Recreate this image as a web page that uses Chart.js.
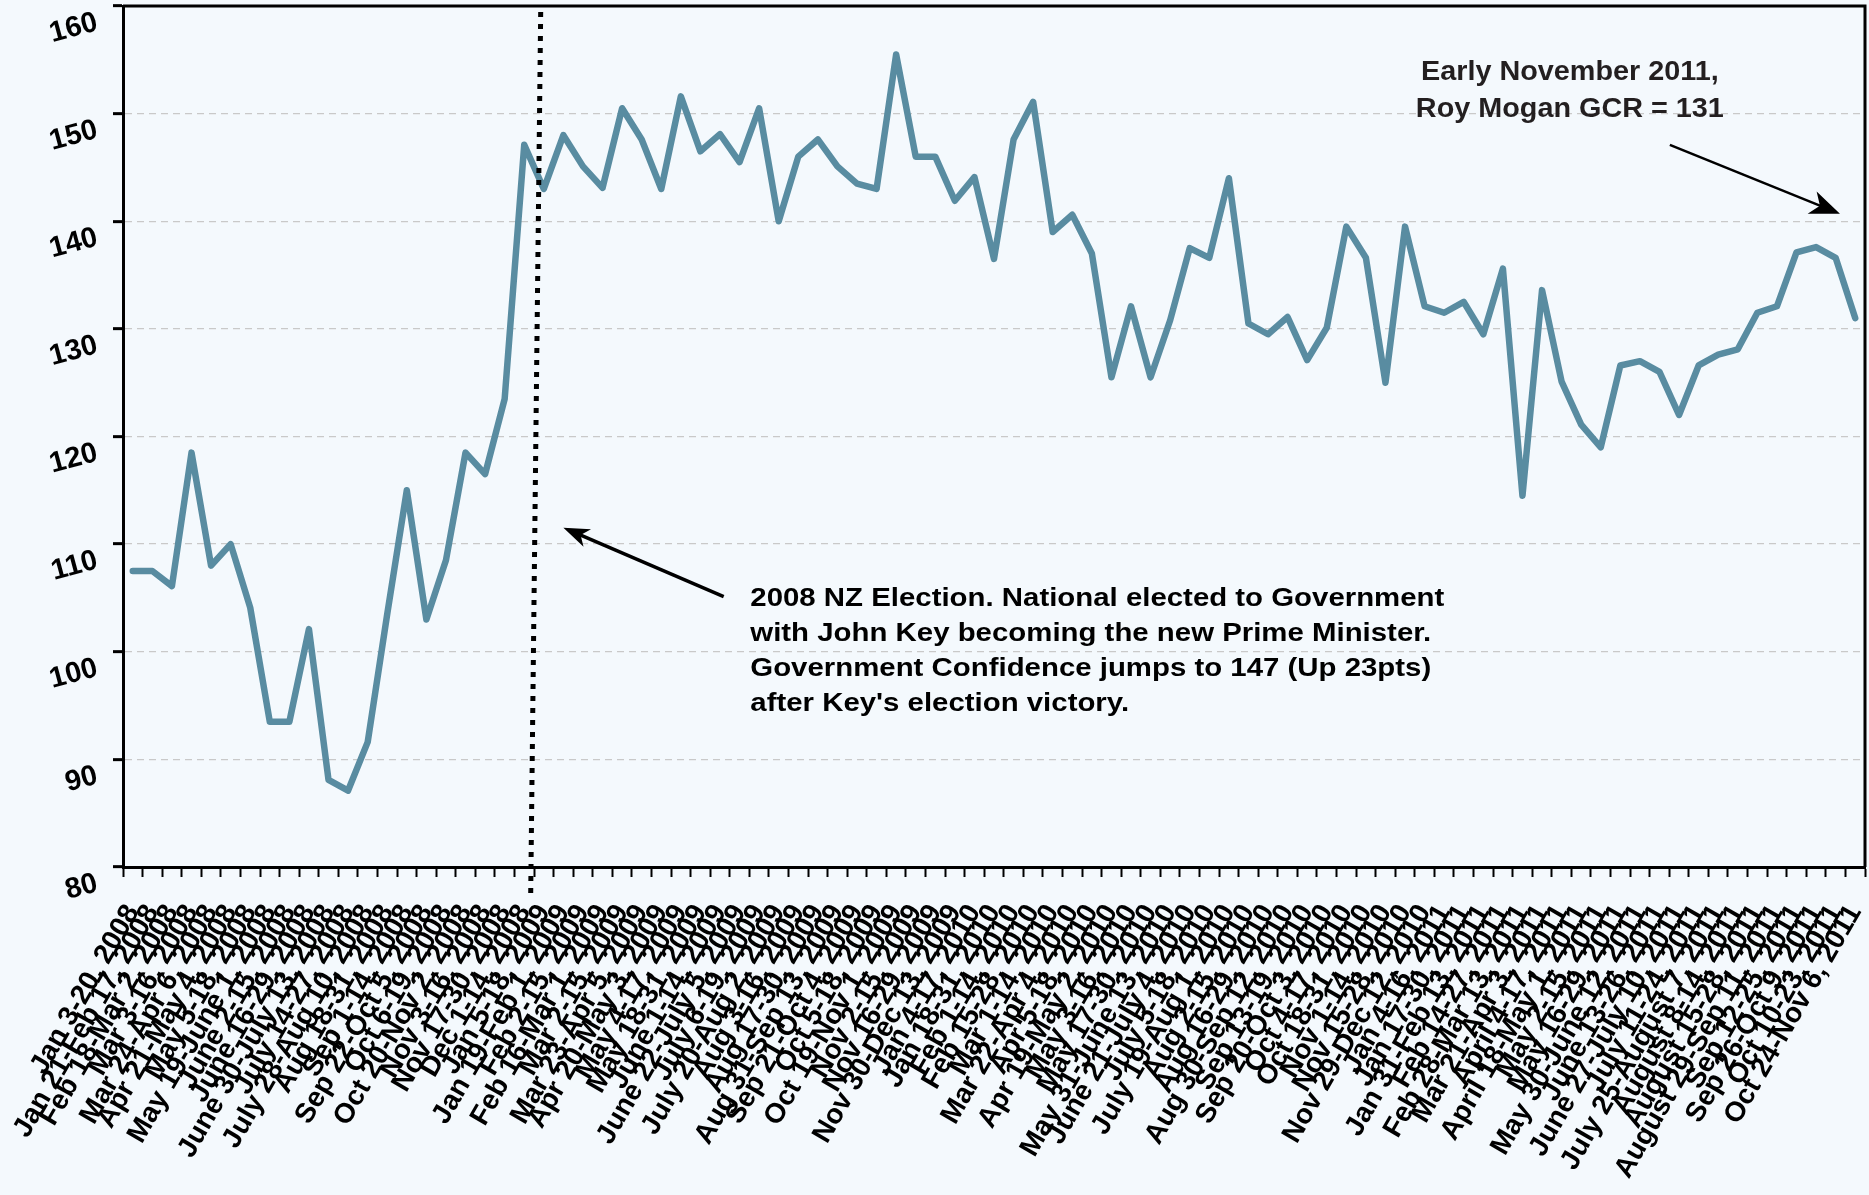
<!DOCTYPE html>
<html>
<head>
<meta charset="utf-8">
<title>NZ Government Confidence Rating 2008-2011</title>
<script src="https://cdn.jsdelivr.net/npm/chart.js@4.4.1/dist/chart.umd.min.js"></script>
<style>
  html, body { margin: 0; padding: 0; background: #f4f9fd; }
  #wrap { width: 1869px; height: 1195px; }
</style>
</head>
<body>
<div id="wrap"><canvas id="gcr" width="1869" height="1195"></canvas></div>
<script>
// survey periods, one list per year
const periods2008 = [
  'Jan 3-20', 'Jan 21-Feb 17', 'Feb 18-Mar 2', 'Mar 3-16', 'Mar 24-Apr 6', 'Apr 21-May 4',
  'May 5-18', 'May 19-June 1', 'June 2-15', 'June 16-29', 'June 30-July 13', 'July 14-27',
  'July 28-Aug 10', 'Aug 18-31', 'Sep 1-14', 'Sep 22-Oct 5', 'Oct 6-19', 'Oct 20-Nov 2',
  'Nov 3-16', 'Nov 17-30', 'Dec 1-14'
];
const periods2009 = [
  'Jan 5-18', 'Jan 19-Feb 1', 'Feb 2-15', 'Feb 16-Mar 1', 'Mar 2-15', 'Mar 23-Apr 5',
  'Apr 20-May 3', 'May 4-17', 'May 18-31', 'June 1-14', 'June 22-July 5', 'July 6-19',
  'July 20-Aug 2', 'Aug 3-16', 'Aug 17-30', 'Aug 31-Sep 13', 'Sep 21-Oct 4', 'Oct 5-18',
  'Oct 19-Nov 1', 'Nov 2-15', 'Nov 16-29', 'Nov 30-Dec 13'
];
const periods2010 = [
  'Jan 4-17', 'Jan 18-31', 'Feb 1-14', 'Feb 15-28', 'Mar 1-14', 'Mar 22-Apr 4',
  'Apr 5-18', 'Apr 19-May 2', 'May 3-16', 'May 17-30', 'May 31-June 13', 'June 21-July 4',
  'July 5-18', 'July 19-Aug 1', 'Aug 2-15', 'Aug 16-29', 'Aug 30-Sep 12', 'Sep 13-19',
  'Sep 20-Oct 3', 'Oct 4-17', 'Oct 18-31', 'Nov 1-14', 'Nov 15-28', 'Nov 29-Dec 12'
];
const periods2011 = [
  'Jan 4-16', 'Jan 17-30', 'Jan 31-Feb 13', 'Feb 14-27', 'Feb 28-Mar 13', 'Mar 21-Apr 3',
  'April 4-17', 'April 18-May 1', 'May 2-15', 'May 16-29', 'May 30-June 12', 'June 13-26',
  'June 27-July 10', 'July 11-24', 'July 25-August 7', 'August 8-14', 'August 15-28',
  'August 29-Sep 11', 'Sep 12-25', 'Sep 26-Oct 9', 'Oct 10-23', 'Oct 24-Nov 6'
];

// Roy Morgan NZ Government Confidence Rating
const gcr2008 = [107.5, 107.5, 106.1, 118.5, 108.0, 110.0, 104.1, 93.5, 93.5, 102.1, 88.1,
  87.1, 91.6, 103.5, 115.0, 103.0, 108.5, 118.5, 116.5, 123.5, 147.1];
const gcr2009 = [143.0, 148.0, 145.1, 143.1, 150.5, 147.6, 143.0, 151.6, 146.5, 148.1, 145.5,
  150.5, 140.0, 146.0, 147.6, 145.1, 143.5, 143.0, 155.5, 146.0, 146.0, 141.9];
const gcr2010 = [144.1, 136.5, 147.6, 151.1, 139.0, 140.6, 137.0, 125.5, 132.1, 125.5, 130.8,
  137.5, 136.6, 144.0, 130.5, 129.5, 131.1, 127.1, 130.1, 139.5, 136.6, 125.0, 139.5, 132.1];
const gcr2011 = [131.5, 132.5, 129.5, 135.6, 114.5, 133.6, 125.1, 121.1, 119.0, 126.6, 127.0,
  126.0, 122.0, 126.6, 127.6, 128.1, 131.5, 132.1, 137.1, 137.6, 136.6, 131.0];

const yMin = 80;
const yMax = 160;
const yStep = 10;

const labels = [
  ...periods2008.map(p => p + ', 2008'),
  ...periods2009.map(p => p + ', 2009'),
  ...periods2010.map(p => p + ', 2010'),
  ...periods2011.map(p => p + ', 2011')
];
const values = [...gcr2008, ...gcr2009, ...gcr2010, ...gcr2011];

const BG = '#f4f9fd';
const FONT = "'Liberation Sans', Arial, sans-serif";

function drawArrow(ctx, x1, y1, x2, y2, width, headLen, headW) {
  const a = Math.atan2(y2 - y1, x2 - x1);
  ctx.save();
  ctx.strokeStyle = '#000';
  ctx.fillStyle = '#000';
  ctx.lineWidth = width;
  ctx.beginPath();
  ctx.moveTo(x1, y1);
  ctx.lineTo(x2 - headLen * 0.7 * Math.cos(a), y2 - headLen * 0.7 * Math.sin(a));
  ctx.stroke();
  ctx.translate(x2, y2);
  ctx.rotate(a);
  ctx.beginPath();
  ctx.moveTo(0, 0);
  ctx.lineTo(-headLen, -headW / 2);
  ctx.lineTo(-headLen * 0.72, 0);
  ctx.lineTo(-headLen, headW / 2);
  ctx.closePath();
  ctx.fill();
  ctx.restore();
}

// draw lines of text, squeezed/stretched so the widest line fits targetW
function drawLines(ctx, lines, x, y, lineH, font, color, align, targetW) {
  ctx.save();
  ctx.font = font;
  ctx.fillStyle = color;
  ctx.textBaseline = 'alphabetic';
  ctx.textAlign = align;
  const w = Math.max(...lines.map(l => ctx.measureText(l).width));
  const sx = targetW ? targetW / w : 1;
  ctx.translate(x, y);
  ctx.scale(sx, 1);
  lines.forEach((l, i) => ctx.fillText(l, 0, i * lineH));
  ctx.restore();
}

// keep tick labels from shrinking the plot area
function noPad(scale) {
  scale.paddingTop = 0;
  scale.paddingBottom = 0;
  scale.paddingLeft = 0;
  scale.paddingRight = 0;
}

const decorations = {
  id: 'decorations',
  beforeDraw(chart) {
    const ctx = chart.ctx;
    ctx.save();
    ctx.fillStyle = BG;
    ctx.fillRect(0, 0, chart.width, chart.height);
    ctx.restore();
  },
  afterDatasetsDraw(chart) {
    const ctx = chart.ctx;
    const area = chart.chartArea;
    const xs = chart.scales.x;
    const ys = chart.scales.y;

    // frame: top and right edges
    ctx.save();
    ctx.strokeStyle = '#000';
    ctx.lineWidth = 3;
    ctx.beginPath();
    ctx.moveTo(area.left, area.top);
    ctx.lineTo(area.right, area.top);
    ctx.lineTo(area.right, area.bottom);
    ctx.stroke();
    ctx.restore();

    // election marker
    ctx.save();
    ctx.strokeStyle = '#000';
    ctx.lineWidth = 5;
    ctx.setLineDash([5, 7]);
    ctx.beginPath();
    ctx.moveTo(xs.getPixelForValue(20.84), area.top + 6);
    ctx.lineTo(xs.getPixelForValue(20.33), area.bottom + 26);
    ctx.stroke();
    ctx.restore();

    // election note
    drawArrow(ctx, xs.getPixelForValue(30.19), ys.getPixelForValue(105.13),
      xs.getPixelForValue(22.0), ys.getPixelForValue(111.53), 3.5, 26, 19);
    drawLines(ctx, [
      '2008 NZ Election. National elected to Government',
      'with John Key becoming the new Prime Minister.',
      'Government Confidence jumps to 147 (Up 23pts)',
      "after Key's election victory."
    ], xs.getPixelForValue(31.55), ys.getPixelForValue(104.22), 35,
      'bold 26px ' + FONT, '#000', 'left', 694);

    // latest reading note
    drawLines(ctx, ['Early November 2011,', 'Roy Mogan GCR = 131'],
      xs.getPixelForValue(73.42), ys.getPixelForValue(153.13), 37,
      'bold 27px ' + FONT, '#231f20', 'center', 308);
    drawArrow(ctx, xs.getPixelForValue(78.53), ys.getPixelForValue(147.09),
      xs.getPixelForValue(87.22), ys.getPixelForValue(140.69), 2.5, 30, 24);
  }
};

new Chart(document.getElementById('gcr'), {
  type: 'line',
  data: {
    labels: labels,
    datasets: [{
      label: 'Government Confidence Rating',
      data: values,
      borderColor: '#598ca1',
      borderWidth: 6.5,
      pointRadius: 0,
      tension: 0,
      borderJoinStyle: 'round',
      borderCapStyle: 'round'
    }]
  },
  options: {
    responsive: false,
    devicePixelRatio: 1,
    animation: false,
    layout: { padding: { top: 6, right: 4, left: 0, bottom: 0 } },
    plugins: {
      legend: { display: false },
      tooltip: { enabled: false }
    },
    scales: {
      x: {
        offset: true,
        ticks: {
          autoSkip: false,
          minRotation: 60,
          maxRotation: 60,
          padding: 22,
          color: '#000',
          font: { family: FONT, weight: 'bold', size: 28 }
        },
        grid: {
          offset: true,
          drawOnChartArea: false,
          tickLength: 10,
          tickColor: '#000',
          tickWidth: 2,
          tickBorderDash: []
        },
        border: { color: '#000', width: 3 },
        afterFit(scale) { scale.height = 328; noPad(scale); }
      },
      y: {
        min: yMin,
        max: yMax,
        ticks: {
          stepSize: yStep,
          minRotation: 15,
          maxRotation: 15,
          labelOffset: 16,
          padding: 16,
          color: '#000',
          font: { family: FONT, weight: 'bold', size: 29 }
        },
        grid: {
          color: '#c9c9c9',
          lineWidth: 1.3,
          tickLength: 10,
          tickColor: '#000',
          tickWidth: 3,
          tickBorderDash: []
        },
        border: { color: '#000', width: 3, dash: [7, 5] },
        afterFit(scale) { scale.width = 123; noPad(scale); }
      }
    }
  },
  plugins: [decorations]
});
</script>
</body>
</html>
